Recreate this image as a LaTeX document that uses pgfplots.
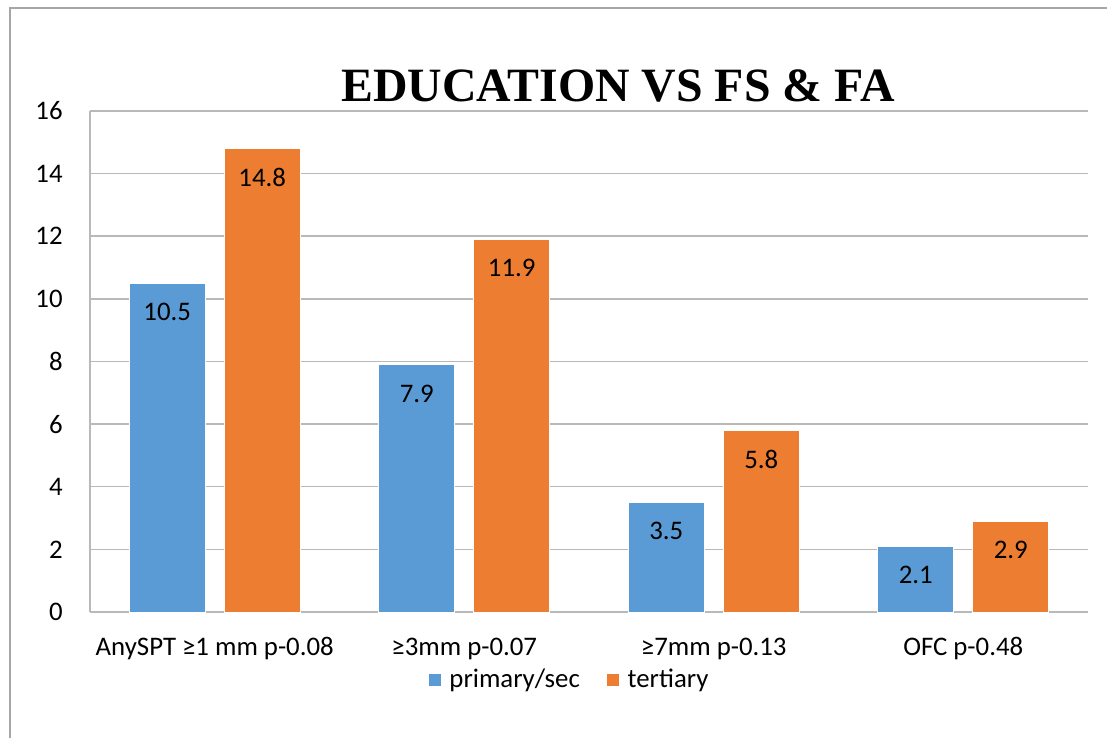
\documentclass[border=0pt]{standalone}
\usepackage{fontspec}
\setmainfont{Carlito}
\newfontfamily\titlefont{Liberation Serif}
\usepackage{pgfplots}
\pgfplotsset{compat=1.18}
\definecolor{cblue}{RGB}{91,155,213}
\definecolor{corange}{RGB}{237,125,49}
\definecolor{gridgray}{RGB}{185,185,185}
\definecolor{framegray}{RGB}{166,166,166}
\begin{document}
\begin{tikzpicture}
\useasboundingbox (-45pt,-63pt) rectangle (508.5pt,306pt);
\begin{axis}[
  at={(0,0)}, anchor=south west,
  scale only axis, width=499pt, height=250.5pt,
  ybar, bar width=38pt, ybar=9.5pt,
  xmin=-0.5, xmax=3.5, ymin=0, ymax=16,
  ytick={0,2,...,16},
  xtick={0,1,2,3},
  xticklabels={AnySPT ≥1 mm p-0.08, ≥3mm p-0.07, ≥7mm p-0.13, OFC p-0.48},
  major tick length=0pt,
  axis lines*=left,
  axis line style={draw=gridgray, line width=0.75pt},
  ymajorgrids, grid style={draw=gridgray, line width=0.75pt},
  /pgf/number format/assume math mode=true,
  tick label style={font=\fontsize{13.4}{16}\selectfont},
  yticklabel style={anchor=east, inner sep=0pt, xshift=-13.5pt},
  xticklabel style={anchor=base, inner sep=0pt, yshift=-21.5pt},
  nodes near coords,
  nodes near coords style={font=\fontsize{13.4}{16}\selectfont, anchor=center, yshift=-14.5pt, /pgf/number format/assume math mode=true, /pgf/number format/fixed, /pgf/number format/precision=1},
  legend columns=2,
  legend style={draw=none, at={(0.481,-0.136)}, anchor=center, font=\fontsize{13.4}{16}\selectfont,
    /tikz/every odd column/.append style={column sep=2pt},
    /tikz/every even column/.append style={column sep=11pt}},
  legend image code/.code={\fill[#1] (0pt,-3.25pt) rectangle (6.5pt,3.25pt);},
]
\addplot[fill=cblue, draw=white, line width=0.4pt] coordinates {(0,10.5) (1,7.9) (2,3.5) (3,2.1)};
\addplot[fill=corange, draw=white, line width=0.4pt] coordinates {(0,14.8) (1,11.9) (2,5.8) (3,2.9)};
\legend{primary/sec, tertiary}
\end{axis}
\draw[framegray, line width=0.75pt] (-40pt,-63pt) -- (-40pt,302pt) -- (508.5pt,302pt);
\node[anchor=base, inner sep=0pt, font=\titlefont\bfseries\fontsize{23.9}{28}\selectfont] at (264pt,255pt) {EDUCATION VS FS \& FA};
\end{tikzpicture}
\end{document}
